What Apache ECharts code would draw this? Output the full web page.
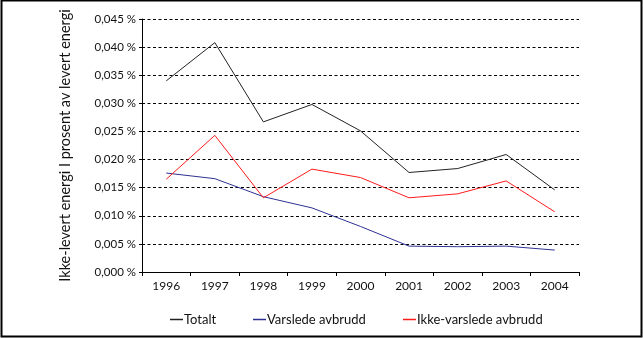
<!DOCTYPE html>
<html><head><meta charset="utf-8">
<script src="https://cdn.jsdelivr.net/npm/echarts@6/dist/echarts.min.js"></script>
<style>html,body{margin:0;padding:0;background:#fff}#c{width:643px;height:338px}</style>
</head><body><div id="c"></div>
<script>
var years = ['1996','1997','1998','1999','2000','2001','2002','2003','2004'];
var totalt = [0.0340,0.0408,0.0267,0.0298,0.0251,0.0177,0.0184,0.0209,0.0146];
var varslede = [0.0176,0.0166,0.0134,0.0114,0.0081,0.0046,0.0045,0.0046,0.0039];
var ikkeVarslede = [0.0165,0.0243,0.0132,0.0183,0.0168,0.0132,0.0139,0.0162,0.0107];
var seriesNames = ['Totalt','Varslede avbrudd','Ikke-varslede avbrudd'];
var yAxisTitle = 'Ikke-levert energi I prosent av levert energi';

var FONT = 'Lato';
var chart = echarts.init(document.getElementById('c'));
function legend(name, left, color) {
  return {
    data: [{name: name, icon: 'rect', itemStyle: {color: color}}], left: left, top: 313, itemWidth: 13, itemHeight: 1.5, itemGap: 0,
    padding: 0, selectedMode: false,
    textStyle: {fontFamily: FONT, fontSize: 13, color: '#111', padding: [0,0,0,-4]}
  };
}
chart.setOption({
  animation: false,
  graphic: [{type: 'rect', shape: {x: 1.5, y: 0.5, width: 640, height: 336}, style: {fill: 'none', stroke: '#000', lineWidth: 2}, silent: true}],
  grid: {left: 142, right: 64, top: 19, bottom: 66},
  legend: [legend(seriesNames[0], 170, '#222'), legend(seriesNames[1], 253, '#2e3192'), legend(seriesNames[2], 403, '#ff1a1a')],
  xAxis: {
    type: 'category', data: years, boundaryGap: true,
    axisLine: {lineStyle: {color: '#000', width: 1}},
    axisTick: {show: true, length: 4, inside: false, lineStyle: {color: '#000'}},
    axisLabel: {fontFamily: FONT, fontSize: 12, color: '#111', margin: 8}
  },
  yAxis: {
    type: 'value', min: 0, max: 0.045, interval: 0.005,
    name: yAxisTitle, nameLocation: 'middle', nameGap: 69, nameRotate: 90,
    nameTextStyle: {fontFamily: FONT, fontSize: 14.5, color: '#111'},
    axisLine: {show: true, lineStyle: {color: '#000', width: 1}},
    axisTick: {show: true, length: 3, lineStyle: {color: '#000'}},
    axisLabel: {fontFamily: FONT, fontSize: 11.5, color: '#111', margin: 6,
      formatter: function (v) { return v.toFixed(3).replace('.', ',') + ' %'; }},
    splitLine: {show: true, lineStyle: {color: '#000', width: 1, type: [3, 2.5]}}
  },
  series: [
    {name: seriesNames[0], type: 'line', data: totalt, symbol: 'none', lineStyle: {color: '#222', width: 1}, itemStyle: {color: '#222'}},
    {name: seriesNames[1], type: 'line', data: varslede, symbol: 'none', lineStyle: {color: '#2e3192', width: 1}, itemStyle: {color: '#2e3192'}},
    {name: seriesNames[2], type: 'line', data: ikkeVarslede, symbol: 'none', lineStyle: {color: '#ff1a1a', width: 1}, itemStyle: {color: '#ff1a1a'}}
  ]
});
</script></body></html>
